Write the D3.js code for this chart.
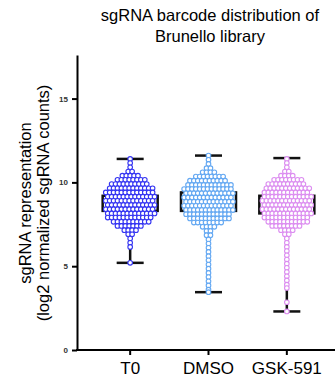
<!DOCTYPE html>
<html>
<head>
<meta charset="utf-8">
<script src="https://cdn.jsdelivr.net/npm/d3@7"></script>
<style>
  body { margin: 0; background: #fff; }
  svg { font-family: "Liberation Sans", Arial, sans-serif; }
</style>
</head>
<body>
<div id="chart"></div>
<script>
const categories = ['T0', 'DMSO', 'GSK-591'];
const colors = ['#3535f2', '#64a8f2', '#dc8ef0'];

// swarm rows: value of the row and how many sgRNAs sit in it
const t0Rows = [11.4, 11.15, 10.9, 10.65, 10.4, 10.15, 9.9, 9.65, 9.4, 9.15, 8.9, 8.65, 8.4, 8.15, 7.9, 7.65, 7.4, 7.15, 6.9, 6.65, 6.4, 6.15, 5.2];
const t0Counts = [1, 1, 1, 2, 5, 8, 10, 12, 13, 13, 13, 13, 13, 13, 12, 10, 7, 4, 2, 1, 1, 1, 1];
const dmsoRows = [11.6, 11.35, 11.1, 10.85, 10.6, 10.35, 10.1, 9.85, 9.6, 9.35, 9.1, 8.85, 8.6, 8.35, 8.1, 7.85, 7.6, 7.35, 7.1, 6.85, 6.6, 6.35, 6.1, 5.85, 5.6, 5.35, 5.1, 4.85, 4.6, 4.35, 4.1, 3.85, 3.6, 3.45];
const dmsoCounts = [1, 1, 1, 2, 4, 8, 10, 12, 13, 13, 13, 13, 13, 13, 12, 11, 8, 4, 2, 2, 1, 1, 1, 1, 1, 1, 1, 1, 1, 1, 1, 1, 1, 1];
const gskRows = [11.4, 11.15, 10.9, 10.65, 10.4, 10.15, 9.9, 9.65, 9.4, 9.15, 8.9, 8.65, 8.4, 8.15, 7.9, 7.65, 7.4, 7.15, 6.9, 6.65, 6.4, 6.15, 5.9, 5.65, 5.4, 5.15, 4.9, 4.65, 4.4, 4.15, 3.9, 3.7, 2.85, 2.3];
const gskCounts = [1, 1, 1, 2, 4, 8, 10, 12, 12, 13, 13, 13, 13, 13, 12, 11, 8, 4, 2, 1, 1, 1, 1, 1, 1, 1, 1, 1, 1, 1, 1, 1, 1, 1];

// box stats: q1, q3, min, max
const q1 = [8.3, 8.3, 8.15];
const q3 = [9.2, 9.4, 9.2];
const mins = [5.2, 3.45, 2.3];
const maxs = [11.4, 11.6, 11.45];

const yTicks = [0, 5, 10, 15];

const width = 335, height = 383;
const svg = d3.select('#chart').append('svg').attr('width', width).attr('height', height);

const x = d3.scaleBand().domain(categories).range([91, 326]).padding(0);
const y = d3.scaleLinear().domain([0, 17.6]).range([350, 55]);
const axisLeftX = 77;

const groups = [
  { rows: t0Rows, counts: t0Counts },
  { rows: dmsoRows, counts: dmsoCounts },
  { rows: gskRows, counts: gskCounts }
];

// box + whiskers behind the swarm
const boxW = 55, capW = 27;
categories.forEach((c, i) => {
  const cx = x(c) + x.bandwidth() / 2;
  const g = svg.append('g');
  g.append('line').attr('x1', cx).attr('x2', cx).attr('y1', y(mins[i])).attr('y2', y(maxs[i]))
    .attr('stroke', '#111').attr('stroke-width', 2.5);
  [mins[i], maxs[i]].forEach(v => {
    g.append('line').attr('x1', cx - capW / 2).attr('x2', cx + capW / 2).attr('y1', y(v)).attr('y2', y(v))
      .attr('stroke', '#111').attr('stroke-width', 2.5);
  });
  g.append('rect').attr('x', cx - boxW / 2).attr('width', boxW)
    .attr('y', y(q3[i])).attr('height', y(q1[i]) - y(q3[i]))
    .attr('fill', '#fff').attr('stroke', '#111').attr('stroke-width', 2.5);
});

// swarm points
const step = 3.9;
categories.forEach((c, i) => {
  const cx = x(c) + x.bandwidth() / 2;
  const pts = [];
  groups[i].rows.forEach((v, r) => {
    const n = groups[i].counts[r];
    const shift = (n > 6 && r % 2) ? step / 2 : 0;
    for (let k = 0; k < n; k++) pts.push({ x: cx + (k - (n - 1) / 2) * step + shift - (n > 6 ? step / 4 : 0), y: y(v) });
  });
  svg.append('g').selectAll('circle').data(pts).enter().append('circle')
    .attr('cx', d => d.x).attr('cy', d => d.y).attr('r', 2.3)
    .attr('fill', '#fff').attr('stroke', colors[i]).attr('stroke-width', 1.1);
});

// axes
const yAxis = svg.append('g').attr('transform', `translate(${axisLeftX},0)`)
  .call(d3.axisLeft(y).tickValues(yTicks).tickSize(5).tickSizeOuter(0));
yAxis.select('.domain').attr('stroke-width', 2);
yAxis.selectAll('.tick line').attr('stroke-width', 2);
yAxis.selectAll('.tick text').attr('font-size', 8).attr('font-weight', 'bold').attr('fill', '#333').attr('dx', -1);

const xAxis = svg.append('g').attr('transform', `translate(0,${y(0)})`)
  .call(d3.axisBottom(x).tickSize(5).tickSizeOuter(0));
xAxis.select('.domain').attr('d', `M${axisLeftX - 1},0H${width}`).attr('stroke-width', 2);
xAxis.selectAll('.tick line').attr('stroke-width', 2);
xAxis.selectAll('.tick text').attr('font-size', 17).attr('fill', '#000').attr('y', 12);

// title
svg.append('text').attr('x', 210).attr('y', 21).attr('text-anchor', 'middle')
  .attr('font-size', 16.5).text('sgRNA barcode distribution of');
svg.append('text').attr('x', 210).attr('y', 42).attr('text-anchor', 'middle')
  .attr('font-size', 16.5).text('Brunello library');

// y label
const yl = svg.append('text').attr('transform', 'translate(31,203) rotate(-90)')
  .attr('text-anchor', 'middle').attr('font-size', 16.5);
yl.append('tspan').attr('x', 0).attr('y', 0).text('sgRNA representation');
yl.append('tspan').attr('x', 0).attr('y', 18).text('(log2 normalized sgRNA counts)');
</script>
</body>
</html>
